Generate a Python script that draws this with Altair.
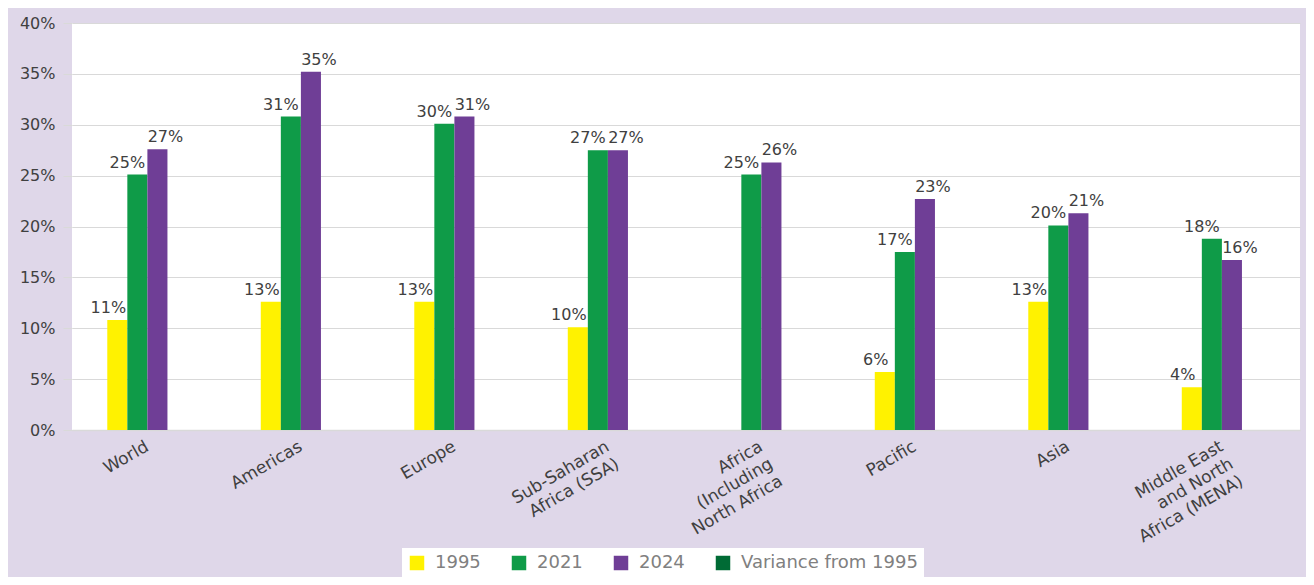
import altair as alt
import pandas as pd

F = "DejaVu Sans"

categories = [
    "World",
    "Americas",
    "Europe",
    "Sub-Saharan\nAfrica (SSA)",
    "Africa\n(Including\nNorth Africa",
    "Pacific",
    "Asia",
    "Middle East\nand North\nAfrica (MENA)",
]
series = ["1995", "2021", "2024"]
legend_items = ["1995", "2021", "2024", "Variance from 1995"]

v1995 = [10.8, 12.6, 12.6, 10.1, None, 5.7, 12.6, 4.2]
v2021 = [25.1, 30.8, 30.1, 27.5, 25.1, 17.5, 20.1, 18.8]
v2024 = [27.6, 35.2, 30.8, 27.5, 26.3, 22.7, 21.3, 16.7]

l1995 = ["11%", "13%", "13%", "10%", None, "6%", "13%", "4%"]
l2021 = ["25%", "31%", "30%", "27%", "25%", "17%", "20%", "18%"]
l2024 = ["27%", "35%", "31%", "27%", "26%", "23%", "21%", "16%"]

y_ticks = [0, 5, 10, 15, 20, 25, 30, 35, 40]

colors = ["#fff200", "#0f9b48", "#6f3e96", "#006b35"]

rows = []
for s, vals, labs in zip(series, [v1995, v2021, v2024], [l1995, l2021, l2024]):
    for c, v, l in zip(categories, vals, labs):
        if v is not None:
            rows.append({"region": c, "series": s, "value": v, "label": l})
df = pd.DataFrame(rows)

x_enc = alt.X(
    "region:N",
    sort=categories,
    scale=alt.Scale(domain=categories, paddingInner=0.608, paddingOuter=0.304, align=0.378),
    axis=alt.Axis(
        title=None,
        labelExpr="split(datum.label, '\\n')",
        labelAngle=-30,
        labelAlign="right",
        labelBaseline="top",
        labelFont=F,
        labelFontSize=17,
        labelColor="#404040",
        labelLineHeight=20,
        labelPadding=8,
        labelOffset=6,
        ticks=False,
        domainColor="#d9d9d9",
        domainWidth=1.5,
        grid=False,
    ),
)
xo_enc = alt.XOffset("series:N", scale=alt.Scale(domain=series, paddingInner=0, paddingOuter=0))
y_enc = alt.Y(
    "value:Q",
    scale=alt.Scale(domain=[0, 40], nice=False, zero=True),
    axis=alt.Axis(
        title=None,
        values=y_ticks,
        labelExpr="datum.value + '%'",
        labelFont=F,
        labelFontSize=16,
        labelColor="#404040",
        labelPadding=8,
        grid=True,
        gridColor="#d9d9d9",
        gridWidth=1.2,
        domain=False,
        ticks=True,
        tickSize=9,
        tickColor="#d9d9d9",
        tickWidth=1.2,
    ),
)

base = alt.Chart(df).encode(x=x_enc, xOffset=xo_enc, y=y_enc)

bars = base.mark_bar().encode(
    color=alt.Color(
        "series:N",
        scale=alt.Scale(domain=legend_items, range=colors),
        legend=alt.Legend(
            title=None,
            orient="none",
            legendX=330,
            legendY=525,
            direction="horizontal",
            fillColor="white",
            padding=6,
            symbolType="square",
            symbolSize=210,
            symbolStrokeWidth=0,
            symbolOpacity=1,
            labelFont=F,
            labelFontSize=18,
            labelColor="#808080",
            labelOffset=9,
            labelLimit=400,
            columnPadding=29,
        ),
    )
)

texts = []
for s, dx in zip(series, [-9, -10, 8]):
    texts.append(
        base.transform_filter(alt.datum.series == s)
        .mark_text(dx=dx, dy=-4, baseline="bottom", align="center", font=F, fontSize=16, color="#404040")
        .encode(text="label:N")
    )

chart = (
    alt.layer(bars, *texts)
    .properties(
        width=1228,
        height=407,
        background="#dfd7e9",
        padding={"left": 64, "top": 15, "right": 6, "bottom": 147},
        autosize=alt.AutoSizeParams(type="none"),
    )
    .configure_view(fill="white", stroke=None)
)

chart.save("out.html", embed_options={"renderer": "svg", "actions": False})
